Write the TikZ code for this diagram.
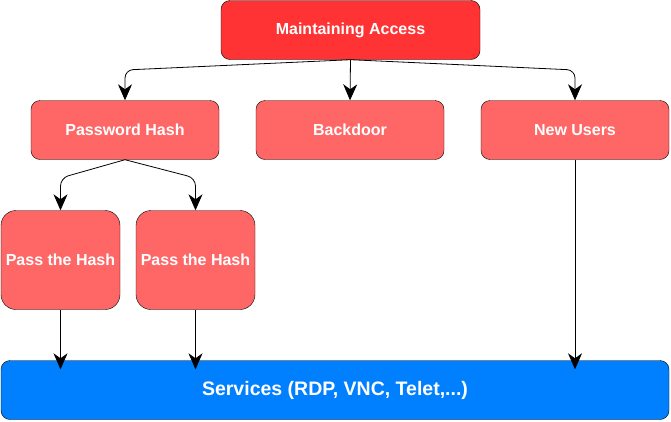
\documentclass[tikz,border=0pt]{standalone}
\usepackage{fontspec}
\setmainfont{Liberation Sans}
\usetikzlibrary{arrows.meta}
\definecolor{accessred}{HTML}{FF3333}
\definecolor{boxred}{HTML}{FF6666}
\definecolor{serviceblue}{HTML}{007FFF}

\begin{document}
\begin{tikzpicture}[x=1pt,y=-1pt,
    box/.style={draw=black, fill=boxred, rounded corners=9pt, text=white, inner sep=0pt,
        font=\fontsize{16}{18}\selectfont\bfseries, minimum width=188pt, minimum height=59pt},
    passbox/.style={box, rounded corners=15pt, minimum width=119pt, minimum height=99pt},
    link/.style={draw=black, line width=0.8pt, rounded corners=8pt, -{Stealth[length=16pt,width=14pt,inset=5pt]}}]
    \useasboundingbox (0,0) rectangle (671,421);
    \node[box, fill=accessred, minimum width=259pt] (access) at (350.5,30) {Maintaining Access};
    \node[box] (hash) at (125,130) {Password Hash};
    \node[box] (backdoor) at (350,130) {Backdoor};
    \node[box] (users) at (575,130) {New Users};
    \node[passbox] (pass1) at (60.5,260) {Pass the Hash};
    \node[passbox] (pass2) at (195.5,260) {Pass the Hash};
    \node[box, fill=serviceblue, minimum width=668pt, font=\fontsize{19.5}{22}\selectfont\bfseries] (services) at (335,390) {Services (RDP, VNC, Telet,...)};
    % arrows from the top
    \draw[link] (access.south) -- (125,70) -- (hash.north);
    \draw[link] (access.south) -- (backdoor.north);
    \draw[link] (access.south) -- (575,70) -- (users.north);
    \draw[link] (hash.south) -- (60.5,178) -- (pass1.north);
    \draw[link] (hash.south) -- (195.5,178) -- (pass2.north);
    % arrows into services
    \coordinate (s1) at ([yshift=-9pt]pass1.south |- services.north);
    \coordinate (s2) at ([yshift=-9pt]pass2.south |- services.north);
    \coordinate (s3) at ([yshift=-9pt]users.south |- services.north);
    \draw[link] (pass1.south) -- (s1);
    \draw[link] (pass2.south) -- (s2);
    \draw[link] (users.south) -- (s3);
\end{tikzpicture}
\end{document}
